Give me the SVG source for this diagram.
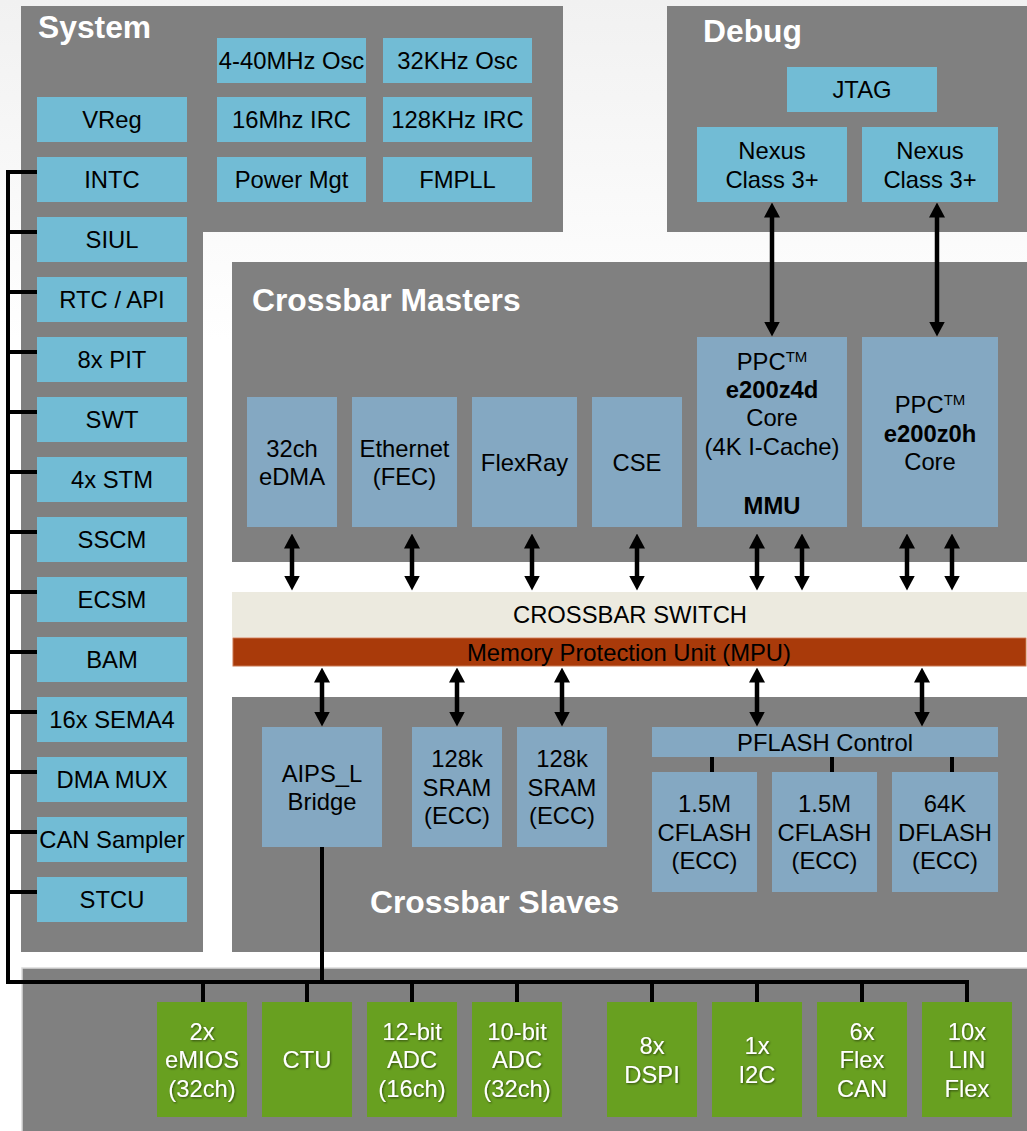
<svg xmlns="http://www.w3.org/2000/svg" width="1027" height="1131" viewBox="0 0 1027 1131">
<defs>
<linearGradient id="bg" x1="0" y1="0" x2="0" y2="1" gradientUnits="objectBoundingBox">
<stop offset="0" stop-color="#F1F1F1"/>
<stop offset="0.3" stop-color="#FFFFFF"/>
<stop offset="1" stop-color="#FFFFFF"/>
</linearGradient>
<marker id="ah" viewBox="0 0 15 16" refX="0.5" refY="8" markerWidth="15" markerHeight="16" markerUnits="userSpaceOnUse" orient="auto-start-reverse">
<path d="M0,0 L15,8 L0,16 z" fill="#000"/>
</marker>
<filter id="sh" x="-10%" y="-10%" width="130%" height="130%">
<feDropShadow dx="1" dy="1" stdDeviation="0.8" flood-color="#000" flood-opacity="0.55"/>
</filter>
</defs>
<style>
.panel{fill:#808080}
.sys{fill:#72BCD5}
.mst{fill:#84A8C2}
.grn{fill:#68A020}
.t{font-family:"Liberation Sans",Arial,sans-serif;font-size:23.8px;fill:#000;text-anchor:middle}
.tw{fill:#fff;filter:url(#sh)}
.title{font-family:"Liberation Sans",Arial,sans-serif;font-weight:bold;font-size:31.8px;fill:#fff}
.b{font-weight:bold}
.wire{stroke:#000;stroke-width:4;fill:none}
.arr{stroke:#000;stroke-width:4.5;fill:none;marker-start:url(#ah);marker-end:url(#ah)}
</style>
<rect x="0" y="0" width="1027" height="1131" fill="url(#bg)"/>

<!-- Panels -->
<g id="panel-system">
<path class="panel" d="M21,6 H563 V232 H203 V952 H21 Z"/>
<text class="title" x="38" y="38">System</text>
</g>
<g id="panel-debug">
<rect class="panel" x="667" y="6" width="360" height="226"/>
<text class="title" x="703" y="42">Debug</text>
</g>
<g id="panel-masters">
<rect class="panel" x="232" y="262" width="795" height="300"/>
<text class="title" x="252" y="311">Crossbar Masters</text>
</g>
<g id="panel-slaves">
<rect class="panel" x="232" y="697" width="795" height="255"/>
<text class="title" x="370" y="913">Crossbar Slaves</text>
</g>
<g id="panel-periph">
<rect class="panel" x="22" y="968" width="1010" height="170" stroke="#DADADA" stroke-width="1.5"/>
</g>

<!-- System blocks -->
<g id="osc40"><rect class="sys" x="217" y="38" width="149" height="45"/><text class="t" x="291.5" y="69">4-40MHz Osc</text></g>
<g id="osc32"><rect class="sys" x="383" y="38" width="149" height="45"/><text class="t" x="457.5" y="69">32KHz Osc</text></g>
<g id="vreg"><rect class="sys" x="37" y="97" width="150" height="45"/><text class="t" x="112" y="128">VReg</text></g>
<g id="irc16"><rect class="sys" x="217" y="97" width="149" height="45"/><text class="t" x="291.5" y="128">16Mhz IRC</text></g>
<g id="irc128"><rect class="sys" x="383" y="97" width="149" height="45"/><text class="t" x="457.5" y="128">128KHz IRC</text></g>
<g id="intc"><rect class="sys" x="37" y="157" width="150" height="45"/><text class="t" x="112" y="188">INTC</text></g>
<g id="pwr"><rect class="sys" x="217" y="157" width="149" height="45"/><text class="t" x="291.5" y="188">Power Mgt</text></g>
<g id="fmpll"><rect class="sys" x="383" y="157" width="149" height="45"/><text class="t" x="457.5" y="188">FMPLL</text></g>
<g id="siul"><rect class="sys" x="37" y="217" width="150" height="45"/><text class="t" x="112" y="248">SIUL</text></g>
<g id="rtc"><rect class="sys" x="37" y="277" width="150" height="45"/><text class="t" x="112" y="308">RTC / API</text></g>
<g id="pit"><rect class="sys" x="37" y="337" width="150" height="45"/><text class="t" x="112" y="368">8x PIT</text></g>
<g id="swt"><rect class="sys" x="37" y="397" width="150" height="45"/><text class="t" x="112" y="428">SWT</text></g>
<g id="stm"><rect class="sys" x="37" y="457" width="150" height="45"/><text class="t" x="112" y="488">4x STM</text></g>
<g id="sscm"><rect class="sys" x="37" y="517" width="150" height="45"/><text class="t" x="112" y="548">SSCM</text></g>
<g id="ecsm"><rect class="sys" x="37" y="577" width="150" height="45"/><text class="t" x="112" y="608">ECSM</text></g>
<g id="bam"><rect class="sys" x="37" y="637" width="150" height="45"/><text class="t" x="112" y="668">BAM</text></g>
<g id="sema4"><rect class="sys" x="37" y="697" width="150" height="45"/><text class="t" x="112" y="728">16x SEMA4</text></g>
<g id="dmamux"><rect class="sys" x="37" y="757" width="150" height="45"/><text class="t" x="112" y="788">DMA MUX</text></g>
<g id="cansampler"><rect class="sys" x="37" y="817" width="150" height="45"/><text class="t" x="112" y="848">CAN Sampler</text></g>
<g id="stcu"><rect class="sys" x="37" y="877" width="150" height="45"/><text class="t" x="112" y="908">STCU</text></g>

<!-- Debug blocks -->
<g id="jtag"><rect class="sys" x="787" y="67" width="150" height="45"/><text class="t" x="862" y="98">JTAG</text></g>
<g id="nexus1"><rect class="sys" x="697" y="127" width="150" height="75"/><text class="t" x="772" y="159">Nexus</text><text class="t" x="772" y="188">Class 3+</text></g>
<g id="nexus2"><rect class="sys" x="862" y="127" width="136" height="75"/><text class="t" x="930" y="159">Nexus</text><text class="t" x="930" y="188">Class 3+</text></g>

<!-- Masters -->
<g id="edma"><rect class="mst" x="247" y="397" width="90" height="130"/><text class="t" x="292" y="456.5">32ch</text><text class="t" x="292" y="485">eDMA</text></g>
<g id="fec"><rect class="mst" x="352" y="397" width="105" height="130"/><text class="t" x="404.5" y="456.5">Ethernet</text><text class="t" x="404.5" y="485">(FEC)</text></g>
<g id="flexray"><rect class="mst" x="472" y="397" width="105" height="130"/><text class="t" x="524.5" y="471">FlexRay</text></g>
<g id="cse"><rect class="mst" x="592" y="397" width="90" height="130"/><text class="t" x="637" y="471">CSE</text></g>
<g id="z4d"><rect class="mst" x="697" y="337" width="150" height="190"/>
<text class="t" x="772" y="370">PPC<tspan font-size="15" dy="-8">TM</tspan></text>
<text class="t b" x="772" y="398">e200z4d</text>
<text class="t" x="772" y="426">Core</text>
<text class="t" x="772" y="455">(4K I-Cache)</text>
<text class="t b" x="772" y="514">MMU</text></g>
<g id="z0h"><rect class="mst" x="862" y="337" width="136" height="190"/>
<text class="t" x="930" y="413">PPC<tspan font-size="15" dy="-8">TM</tspan></text>
<text class="t b" x="930" y="442">e200z0h</text>
<text class="t" x="930" y="470">Core</text></g>

<!-- Crossbar switch -->
<g id="xbar">
<rect x="232" y="592" width="795" height="45" fill="#ECEADF"/>
<text class="t" x="630" y="623">CROSSBAR SWITCH</text>
</g>
<g id="mpu">
<rect x="233" y="638" width="793" height="28" fill="#A93A0A" stroke="#C9774F" stroke-width="1"/>
<text class="t" x="629" y="661">Memory Protection Unit (MPU)</text>
</g>

<!-- Slaves -->
<g id="aips"><rect class="mst" x="262" y="727" width="120" height="120"/><text class="t" x="322" y="781.5">AIPS_L</text><text class="t" x="322" y="810">Bridge</text></g>
<g id="sram1"><rect class="mst" x="412" y="727" width="90" height="120"/><text class="t" x="457" y="767">128k</text><text class="t" x="457" y="795.5">SRAM</text><text class="t" x="457" y="824">(ECC)</text></g>
<g id="sram2"><rect class="mst" x="517" y="727" width="90" height="120"/><text class="t" x="562" y="767">128k</text><text class="t" x="562" y="795.5">SRAM</text><text class="t" x="562" y="824">(ECC)</text></g>
<g id="pflash"><rect class="mst" x="652" y="727" width="346" height="30"/><text class="t" x="825" y="750.5">PFLASH Control</text></g>
<g id="cflash1"><rect class="mst" x="652" y="772" width="105" height="120"/><text class="t" x="704.5" y="812">1.5M</text><text class="t" x="704.5" y="840.5">CFLASH</text><text class="t" x="704.5" y="869">(ECC)</text></g>
<g id="cflash2"><rect class="mst" x="772" y="772" width="105" height="120"/><text class="t" x="824.5" y="812">1.5M</text><text class="t" x="824.5" y="840.5">CFLASH</text><text class="t" x="824.5" y="869">(ECC)</text></g>
<g id="dflash"><rect class="mst" x="892" y="772" width="106" height="120"/><text class="t" x="945" y="812">64K</text><text class="t" x="945" y="840.5">DFLASH</text><text class="t" x="945" y="869">(ECC)</text></g>

<!-- Peripherals -->
<g id="emios"><rect class="grn" x="157" y="1002" width="90" height="115"/><text class="t tw" x="202" y="1039.5">2x</text><text class="t tw" x="202" y="1068">eMIOS</text><text class="t tw" x="202" y="1096.5">(32ch)</text></g>
<g id="ctu"><rect class="grn" x="262" y="1002" width="90" height="115"/><text class="t tw" x="307" y="1068">CTU</text></g>
<g id="adc12"><rect class="grn" x="367" y="1002" width="90" height="115"/><text class="t tw" x="412" y="1039.5">12-bit</text><text class="t tw" x="412" y="1068">ADC</text><text class="t tw" x="412" y="1096.5">(16ch)</text></g>
<g id="adc10"><rect class="grn" x="472" y="1002" width="90" height="115"/><text class="t tw" x="517" y="1039.5">10-bit</text><text class="t tw" x="517" y="1068">ADC</text><text class="t tw" x="517" y="1096.5">(32ch)</text></g>
<g id="dspi"><rect class="grn" x="607" y="1002" width="90" height="115"/><text class="t tw" x="652" y="1054">8x</text><text class="t tw" x="652" y="1082.5">DSPI</text></g>
<g id="i2c"><rect class="grn" x="712" y="1002" width="90" height="115"/><text class="t tw" x="757" y="1054">1x</text><text class="t tw" x="757" y="1082.5">I2C</text></g>
<g id="flexcan"><rect class="grn" x="817" y="1002" width="90" height="115"/><text class="t tw" x="862" y="1039.5">6x</text><text class="t tw" x="862" y="1068">Flex</text><text class="t tw" x="862" y="1096.5">CAN</text></g>
<g id="linflex"><rect class="grn" x="922" y="1002" width="90" height="115"/><text class="t tw" x="967" y="1039.5">10x</text><text class="t tw" x="967" y="1068">LIN</text><text class="t tw" x="967" y="1096.5">Flex</text></g>

<!-- Connectors -->
<g id="connectors">
<path class="wire" d="M8,170 V982 H967 V1002"/>
<path class="wire" d="M8,172 H37 M8,232 H37 M8,292 H37 M8,352 H37 M8,412 H37 M8,472 H37 M8,532 H37 M8,592 H37 M8,652 H37 M8,712 H37 M8,772 H37 M8,832 H37 M8,892 H37"/>
<path class="wire" d="M203,982 V1002 M307,982 V1002 M412,982 V1002 M517,982 V1002 M652,982 V1002 M757,982 V1002 M862,982 V1002"/>
<path class="wire" d="M322,847 V982"/>
<path class="wire" d="M712,757 V772 M832,757 V772 M952,757 V772"/>
<line class="arr" x1="772" y1="217" x2="772" y2="322"/>
<line class="arr" x1="937" y1="217" x2="937" y2="322"/>
<line class="arr" x1="292" y1="548" x2="292" y2="576"/>
<line class="arr" x1="412" y1="548" x2="412" y2="576"/>
<line class="arr" x1="532" y1="548" x2="532" y2="576"/>
<line class="arr" x1="637" y1="548" x2="637" y2="576"/>
<line class="arr" x1="757" y1="548" x2="757" y2="576"/>
<line class="arr" x1="802" y1="548" x2="802" y2="576"/>
<line class="arr" x1="907" y1="548" x2="907" y2="576"/>
<line class="arr" x1="952" y1="548" x2="952" y2="576"/>
<line class="arr" x1="322" y1="682" x2="322" y2="712"/>
<line class="arr" x1="457" y1="682" x2="457" y2="712"/>
<line class="arr" x1="562" y1="682" x2="562" y2="712"/>
<line class="arr" x1="757" y1="682" x2="757" y2="712"/>
<line class="arr" x1="922" y1="682" x2="922" y2="712"/>
</g>
</svg>
